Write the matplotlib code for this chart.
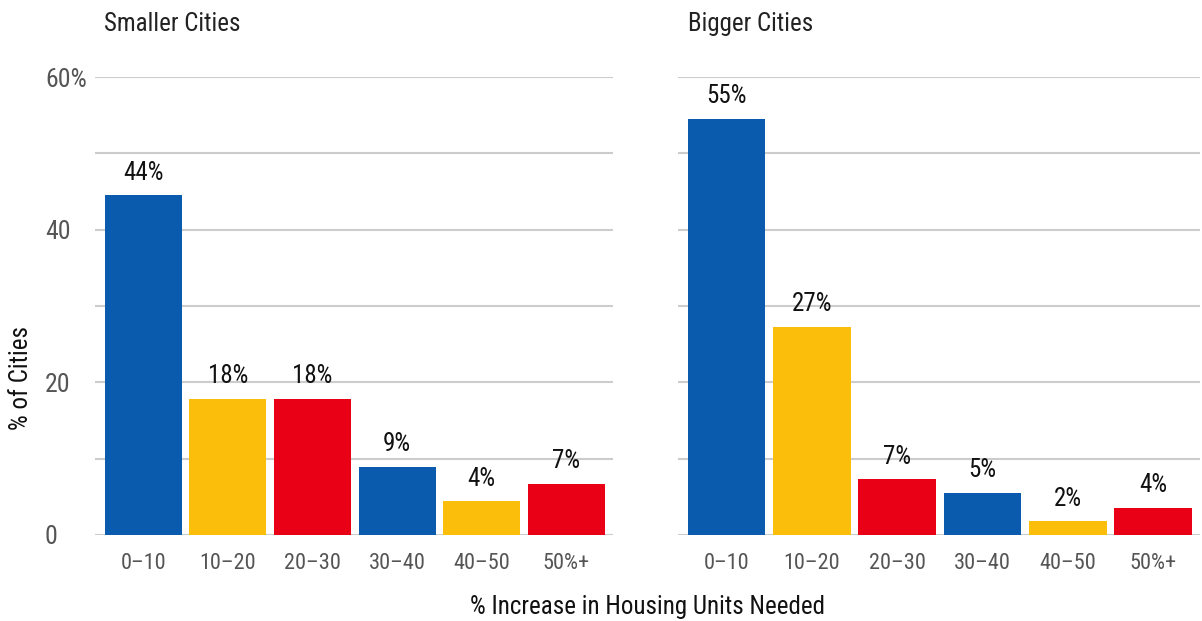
import matplotlib.pyplot as plt
from matplotlib import font_manager

# font: condensed Roboto if present, else Roboto
names = {f.name for f in font_manager.fontManager.ttflist}
fam = 'Roboto Condensed' if 'Roboto Condensed' in names else 'Roboto'
plt.rcParams['font.family'] = [fam, 'DejaVu Sans']

categories = ['0–10', '10–20', '20–30', '30–40', '40–50', '50%+']
smaller = [44.5, 17.8, 17.8, 8.9, 4.4, 6.7]
bigger = [54.5, 27.3, 7.3, 5.5, 1.8, 3.6]
smaller_labels = ['44%', '18%', '18%', '9%', '4%', '7%']
bigger_labels = ['55%', '27%', '7%', '5%', '2%', '4%']
panel_titles = ['Smaller Cities', 'Bigger Cities']
colors = ['#0A5BAD', '#FBBF0B', '#E90016', '#0A5BAD', '#FBBF0B', '#E90016']

fig = plt.figure(figsize=(12.02, 6.21), dpi=100)
W, H = 1202, 621
y0, y1 = 535, 77
ax1 = fig.add_axes([95 / W, (H - y0) / H, (613 - 95) / W, (y0 - y1) / H])
ax2 = fig.add_axes([678 / W, (H - y0) / H, (1200 - 678) / W, (y0 - y1) / H])

for ax, vals, labs, title, tx in [(ax1, smaller, smaller_labels, panel_titles[0], 104),
                                  (ax2, bigger, bigger_labels, panel_titles[1], 688)]:
    x = range(len(categories))
    bars = ax.bar(x, vals, width=0.91, color=colors, zorder=3)
    for b, t in zip(bars, labs):
        ax.text(b.get_x() + b.get_width() / 2, b.get_height() + 1.4, t,
                ha='center', va='bottom', fontsize=18, color='#111111')
    ax.set_ylim(0, 60)
    ax.set_xlim(-0.57, 5.55)
    ax.set_yticks(range(0, 61, 10))
    ax.yaxis.grid(True, color='#cccccc', linewidth=1.5, zorder=0)
    ax.set_xticks(list(x))
    ax.set_xticklabels(categories, fontsize=16, color='#555555')
    ax.tick_params(axis='both', length=0)
    ax.tick_params(axis='x', pad=13)
    for s in ax.spines.values():
        s.set_visible(False)
    fig.text(tx / W, 1 - 24 / H, title, ha='left', va='center', fontsize=18, color='#222222')

ax1.set_yticklabels(['0', '', '20', '', '40', '', '60%'], fontsize=18.5, color='#555555')
ax1.tick_params(axis='y', pad=36)
for lab in ax1.get_yticklabels():
    lab.set_horizontalalignment('left')
ax2.set_yticklabels([])

fig.text(21 / W, 1 - 378 / H, '% of Cities', rotation=90, ha='center', va='center',
         fontsize=18, color='#111111')
fig.text(647 / W, 1 - 607 / H, '% Increase in Housing Units Needed', ha='center',
         va='center', fontsize=18, color='#111111')

fig.savefig('out.png', dpi=100)
